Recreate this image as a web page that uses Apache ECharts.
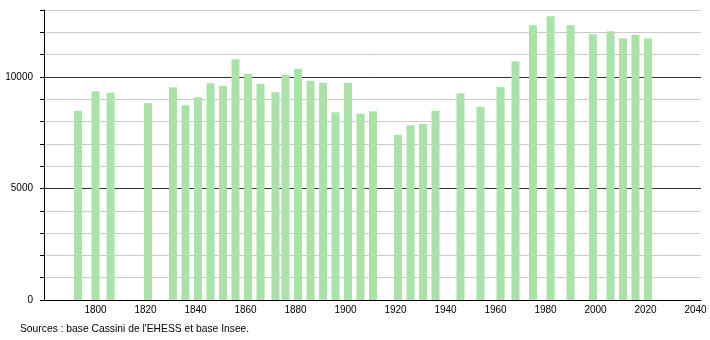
<!DOCTYPE html>
<html>
<head>
<meta charset="utf-8">
<script src="https://cdn.jsdelivr.net/npm/echarts@6/dist/echarts.min.js"></script>
<style>html,body{margin:0;padding:0;background:#fff;}#c{width:710px;height:340px;}</style>
</head>
<body>
<div id="c"></div>
<script>
const years = [1793,1800,1806,1821,1831,1836,1841,1846,1851,1856,1861,1866,1872,1876,1881,1886,1891,1896,1901,1906,1911,1921,1926,1931,1936,1946,1954,1962,1968,1975,1982,1990,1999,2006,2011,2016,2021];
const population = [8488,9354,9296,8816,9533,8726,9085,9712,9609,10790,10147,9690,9309,10102,10371,9833,9744,8413,9744,8354,8458,7412,7830,7892,8488,9264,8668,9551,10699,12313,12717,12313,11910,12044,11717,11896,11717];
const xTickLabels = [1800,1820,1840,1860,1880,1900,1920,1940,1960,1980,2000,2020,2040];
const yMajorLabels = [0,5000,10000];
const sourceText = "Sources : base Cassini de l'EHESS et base Insee.";

const chart = echarts.init(document.getElementById('c'), null, {renderer:'canvas'});
const font = 'Liberation Sans, Arial, sans-serif';
chart.setOption({
  animation: false,
  grid: {left: 44, right: 9, top: 10, bottom: 40, containLabel: false},
  xAxis: {
    type: 'value', min: 1779.4, max: 2042.2,
    axisLine: {show: true, lineStyle: {color: '#000', width: 1}},
    axisTick: {show: false},
    splitLine: {show: false},
    axisLabel: {customValues: xTickLabels, color: '#000', fontSize: 10, fontFamily: font, margin: 5,
      formatter: v => String(v)}
  },
  yAxis: [{
    type: 'value', min: 0, max: 13000, interval: 1000,
    axisLine: {show: true, lineStyle: {color: '#000', width: 1}},
    axisTick: {show: true, length: 4, lineStyle: {color: '#000'}},
    splitLine: {show: true, lineStyle: {color: '#cccccc', width: 1}},
    axisLabel: {color: '#000', fontSize: 10, fontFamily: font, margin: 11,
      formatter: v => yMajorLabels.indexOf(v) >= 0 ? String(v) : ''}
  }, {
    type: 'value', min: 0, max: 13000, interval: 5000, position: 'left',
    axisLine: {show: false}, axisTick: {show: false}, axisLabel: {show: false},
    splitLine: {show: true, showMaxLine: false, lineStyle: {color: '#333333', width: 1}}
  }],
  series: [{
    type: 'bar', barWidth: 8, z: 5,
    itemStyle: {color: '#aae2aa'},
    data: years.map((y, i) => [y, population[i]])
  }],
  graphic: [{
    type: 'text', left: 20, top: 324,
    style: {text: sourceText, fill: '#000', font: '10.3px ' + font}
  }]
});
</script>
</body>
</html>
